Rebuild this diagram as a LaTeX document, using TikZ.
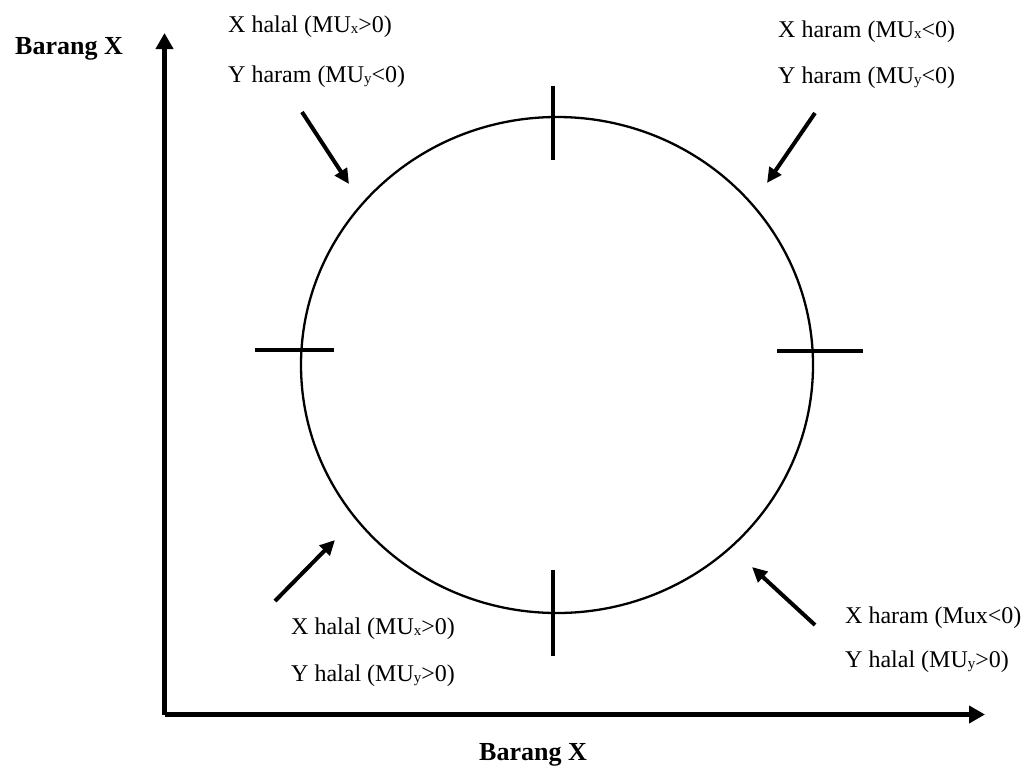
\documentclass[tikz,border=0pt]{standalone}
\usepackage{fontspec}
\setmainfont{Liberation Serif}
\usetikzlibrary{arrows.meta,shapes.geometric}

% small subscript set near the baseline
\newcommand{\lowsub}[1]{\raisebox{-1pt}{\fontsize{15}{15}\selectfont #1}}

\begin{document}
\begin{tikzpicture}[x=1pt,y=-1pt,
  label/.style={anchor=base west,inner sep=0pt,font=\fontsize{24}{26}\selectfont},
  axistitle/.style={inner sep=0pt,font=\fontsize{26}{28}\selectfont\bfseries},
  axis/.style={line width=4.2pt,-{Triangle[length=16pt,width=17pt]}},
  pointer/.style={line width=4pt,-{Triangle[length=15pt,width=14pt]}},
  tick/.style={line width=4pt},
  ring/.style={draw,ellipse,line width=2.3pt,inner sep=0pt}]
\useasboundingbox (0,0) rectangle (1032,771);

% axes
\coordinate (origin) at (164.5,714.5);
\coordinate (ytip) at (164.5,33);
\coordinate (xtip) at (985,714.5);
\draw[axis] (origin) -- (ytip);
\draw[axis] (origin) -- (xtip);
\node[axistitle] (ytitle) at (69,49) {Barang X};
\node[axistitle] (xtitle) at (533,755) {Barang X};

% the indifference ring
\node[ring,minimum width=512pt,minimum height=496pt] (ring) at (557,365) {};

% tick marks on the ring
\coordinate (tTa) at (552.5,86);  \coordinate (tTb) at (552.5,160);
\coordinate (tBa) at (552.5,570); \coordinate (tBb) at (552.5,656);
\coordinate (tLa) at (255,350);   \coordinate (tLb) at (334,350);
\coordinate (tRa) at (777,350.5); \coordinate (tRb) at (863,350.5);
\draw[tick] (tTa) -- (tTb);
\draw[tick] (tBa) -- (tBb);
\draw[tick] (tLa) -- (tLb);
\draw[tick] (tRa) -- (tRb);

% quadrant labels
\node[label] (tl1) at (228,32)  {X halal (MU\lowsub{x}>0)};
\node[label] (tl2) at (228,82)  {Y haram (MU\lowsub{y}<0)};
\node[label] (tr1) at (778,37)  {X haram (MU\lowsub{x}<0)};
\node[label] (tr2) at (778,83)  {Y haram (MU\lowsub{y}<0)};
\node[label] (bl1) at (291,634) {X halal (MU\lowsub{x}>0)};
\node[label] (bl2) at (291,681) {Y halal (MU\lowsub{y}>0)};
\node[label] (br1) at (845,623) {X haram (Mux<0)};
\node[label] (br2) at (845,667) {Y halal (MU\lowsub{y}>0)};

% pointers toward the ring
\coordinate (pTLs) at (302,112); \coordinate (pTLe) at (349,184);
\coordinate (pTRs) at (815,113); \coordinate (pTRe) at (767,183);
\coordinate (pBLs) at (275,601); \coordinate (pBLe) at (335,540);
\coordinate (pBRs) at (815,625); \coordinate (pBRe) at (752,567);
\draw[pointer] (pTLs) -- (pTLe);
\draw[pointer] (pTRs) -- (pTRe);
\draw[pointer] (pBLs) -- (pBLe);
\draw[pointer] (pBRs) -- (pBRe);
\end{tikzpicture}
\end{document}
